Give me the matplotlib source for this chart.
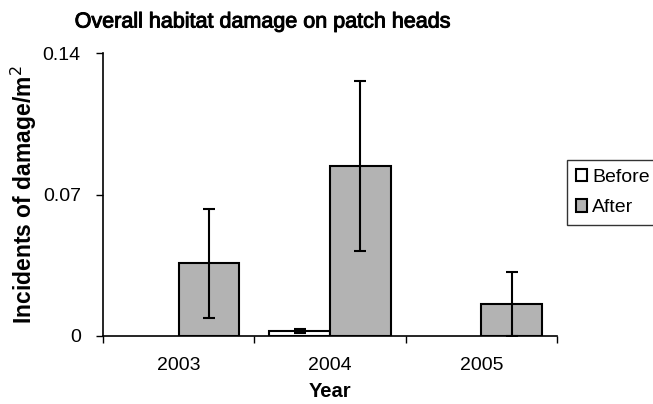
import matplotlib
matplotlib.use("Agg")
import matplotlib.pyplot as plt
import matplotlib.patheffects as pe
import numpy as np

plt.rcParams['font.family'] = ['Liberation Sans', 'DejaVu Sans']

years = ["2003", "2004", "2005"]
before = [0.0, 0.0025, 0.0]
before_err = [0.0, 0.0008, 0.0]
after = [0.036, 0.084, 0.0158]
after_err = [0.027, 0.042, 0.016]
yticks = [0, 0.07, 0.14]
yticklabels = ["0", "0.07", "0.14"]

fig = plt.figure(figsize=(6.53, 4.04), dpi=100)
ax = fig.add_axes([103/653, 68/404, 454/653, 283/404])

x = np.arange(len(years))
w = 0.4
before_plot = [v if v > 0 else np.nan for v in before]
ax.bar(x - w/2, before_plot, w, color='white', edgecolor='black', linewidth=1.5, label='Before', zorder=2)
ax.bar(x + w/2, after, w, color='#b3b3b3', edgecolor='black', linewidth=1.5, label='After', zorder=2)

for xi, v, e in zip(x - w/2, before, before_err):
    if e > 0:
        ax.errorbar(xi, v, yerr=e, color='black', capsize=4, capthick=1.5, elinewidth=1.5, fmt='none', zorder=3)
for xi, v, e in zip(x + w/2, after, after_err):
    if e > 0:
        ax.errorbar(xi, v, yerr=e, color='black', capsize=4, capthick=1.5, elinewidth=1.5, fmt='none', zorder=3)

ax.set_xlim(-0.5, len(years) - 0.5)
ax.set_ylim(0, 0.14)
ax.set_yticks(yticks)
ax.set_yticklabels(yticklabels, fontsize=14)
ax.set_xticks(x)
ax.set_xticklabels(years, fontsize=14)
ax.tick_params(axis='x', which='major', length=0, pad=15)
ax.set_xticks(np.arange(-0.5, len(years), 1.0), minor=True)
ax.tick_params(axis='x', which='minor', length=5, width=1, direction='out')
ax.tick_params(axis='y', length=5, width=1, direction='out', pad=11)
for s in ['top', 'right']:
    ax.spines[s].set_visible(False)
for s in ['left', 'bottom']:
    ax.spines[s].set_linewidth(1.2)

ax.set_xlabel("Year", fontsize=14.5, fontweight='bold', labelpad=6)
ax.yaxis.set_label_coords(-64/454, 0.5 - 10/283)
ax.set_ylabel("Incidents of damage/m$^2$", fontsize=16.5, fontweight='bold')
fig.text(262/653, 1 - 22/404, "Overall habitat damage on patch heads", ha='center', va='center',
         fontsize=15.5, path_effects=[pe.withStroke(linewidth=0.7, foreground='black')])

leg = fig.legend(loc='upper left', bbox_to_anchor=(567/653, 1 - 160/404), fontsize=14,
                 frameon=True, fancybox=False, edgecolor='black', handlelength=0.6, handleheight=0.6,
                 handletextpad=0.25, borderpad=0.45, labelspacing=0.7, borderaxespad=0)
leg.get_frame().set_linewidth(1.0)

fig.savefig("out.png", dpi=100)
